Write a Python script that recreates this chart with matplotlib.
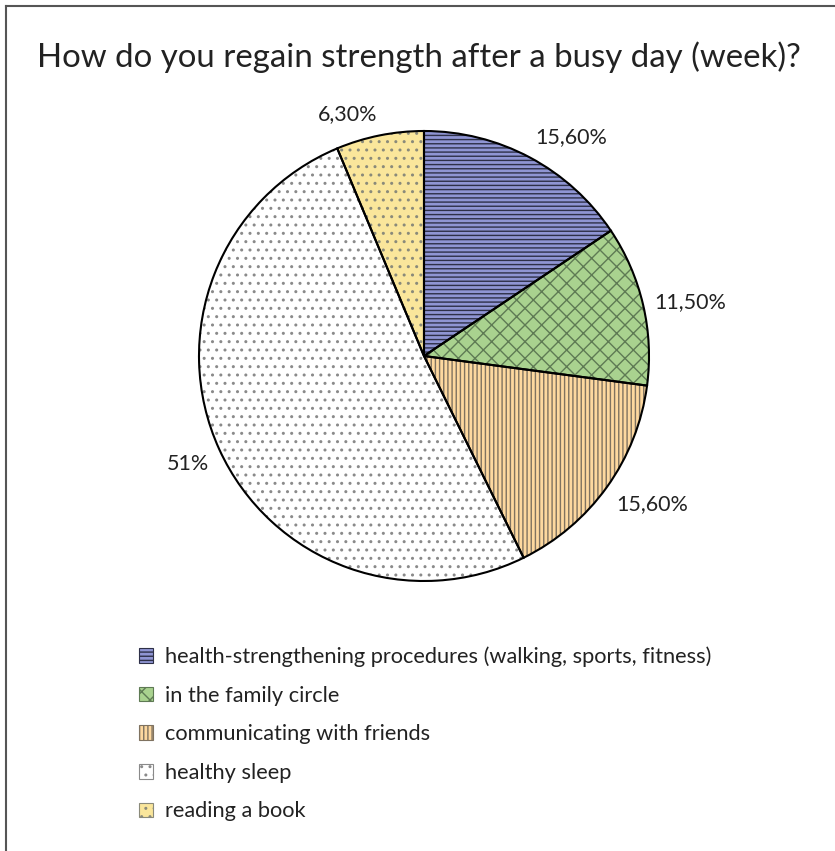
import matplotlib
matplotlib.use("Agg")
import numpy as np
import matplotlib.pyplot as plt
from matplotlib.patches import Patch
from matplotlib.lines import Line2D

plt.rcParams['font.family'] = ['Lato', 'DejaVu Sans']
plt.rcParams['hatch.linewidth'] = 1.0

title = "How do you regain strength after a busy day (week)?"
categories = ["health-strengthening procedures (walking, sports, fitness)",
              "in the family circle",
              "communicating with friends",
              "healthy sleep",
              "reading a book"]
values = [15.6, 11.5, 15.6, 51.0, 6.3]
value_labels = ["15,60%", "11,50%", "15,60%", "51%", "6,30%"]

fills = ["#8f95d3", "#a9d28f", "#fdd89f", "#ffffff", "#fae69b"]
hatch_colors = ["#2e3048", "#5e7a54", "#7f7260", "#8a8a8a", "#8a8a7a"]
hatches = ["----", "xx", "||||", "..", ".."]

W, H = 835, 851
fig = plt.figure(figsize=(W / 100, H / 100), dpi=100)

# frame lines (left and top)
fig.add_artist(Line2D([6 / W, 6 / W], [0, 1 - 6 / H], transform=fig.transFigure, color="#555555", lw=1.5))
fig.add_artist(Line2D([6 / W, 1], [1 - 6 / H, 1 - 6 / H], transform=fig.transFigure, color="#555555", lw=1.5))

fig.text(419 / W, 1 - 57 / H, title, ha="center", va="center", fontsize=23.8, color="#222222")

cx, cy, r = 424, 356, 225
ax = fig.add_axes([(cx - r) / W, (H - cy - r) / H, 2 * r / W, 2 * r / H])

wedges, _ = ax.pie(values, startangle=90, counterclock=False,
                   radius=1, colors=fills, wedgeprops=dict(linewidth=0))
for w, hc, h in zip(wedges, hatch_colors, hatches):
    w.set_hatch(h)
    w.set_edgecolor(hc)
    w.set_linewidth(0)
# black outlines
ax.pie(values, startangle=90, counterclock=False, radius=1,
       wedgeprops=dict(fill=False, edgecolor="black", linewidth=1.5))

# Excel-style "outside end" labels
for w, lab in zip(wedges, value_labels):
    ang = np.deg2rad((w.theta1 + w.theta2) / 2)
    c, s = np.cos(ang), np.sin(ang)
    ha = "left" if c > 0.1 else ("right" if c < -0.1 else "center")
    va = "bottom" if s > 0.5 else ("top" if s < -0.3 else "center")
    ax.text(1.05 * c, 1.05 * s, lab, ha=ha, va=va, fontsize=15.5, color="#222222")

ax.set_xlim(-1, 1)
ax.set_ylim(-1, 1)
ax.set_aspect("equal")
ax.axis("off")

handles = [Patch(facecolor=f, edgecolor=hc, hatch=h, linewidth=0.8) for f, hc, h in zip(fills, hatch_colors, hatches)]
leg = fig.legend(handles, categories, loc="upper left", bbox_to_anchor=(130 / W, 1 - 638 / H),
                 frameon=False, fontsize=15.7, handlelength=0.65, handleheight=0.65,
                 handletextpad=0.55, labelspacing=0.85, borderaxespad=0)
for t in leg.get_texts():
    t.set_color("#222222")

fig.savefig("out.png", dpi=100, facecolor="white")
